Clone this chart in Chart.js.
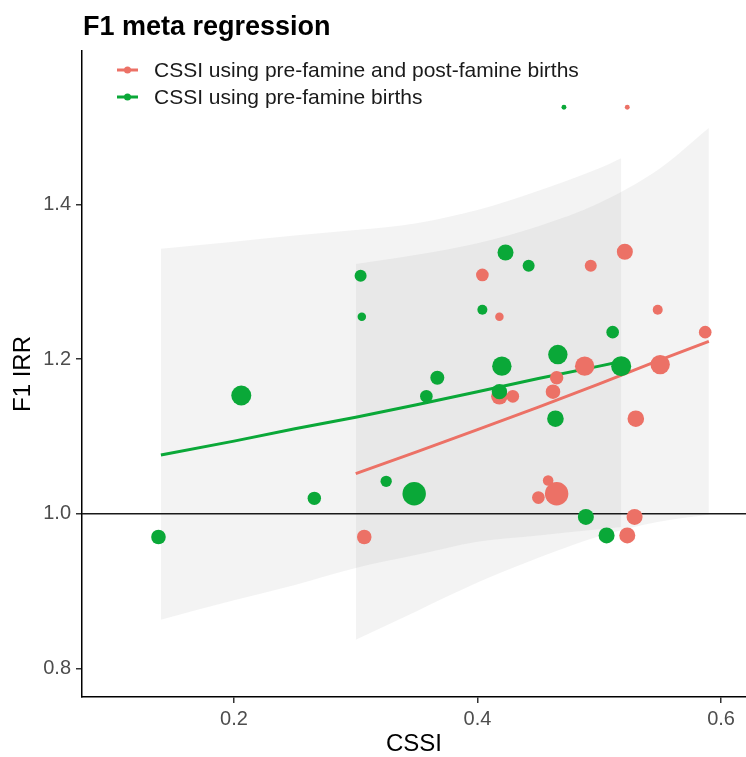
<!DOCTYPE html>
<html lang="en">
<head>
    <meta charset="UTF-8">
    <title>F1 meta regression</title>
    <script src="https://cdn.jsdelivr.net/npm/chart.js@4.4.0/dist/chart.umd.min.js"></script>
    <style>
        html, body { margin: 0; padding: 0; background: #fff; overflow: hidden; }
        #wrap { width: 746px; height: 757px; position: relative; }
        #wrap canvas { display: block; }
    </style>
</head>
<body>
    <div id="wrap"><canvas id="metaChart"></canvas></div>
    <script>
        const FONT = '"Liberation Sans", Arial, sans-serif';

        const chartTitle = 'F1 meta regression';
        const legendLabels = ['CSSI using pre-famine and post-famine births', 'CSSI using pre-famine births'];
        const seriesColors = ['#EC7166', '#0AA838'];

        const xTicks = [0.2, 0.4, 0.6];
        const yTicks = [0.8, 1.0, 1.2, 1.4];
        const xRange = [0.0752, 0.6205];
        const yRange = [0.763, 1.5987];
        const refLine = 1.0;

        // pre-famine + post-famine births (red)
        const redX = [0.307, 0.404, 0.418, 0.418, 0.429, 0.450, 0.458, 0.465, 0.462, 0.465, 0.488, 0.493, 0.521, 0.523, 0.523, 0.529, 0.530, 0.548, 0.550, 0.587];
        const redY = [0.970, 1.309, 1.255, 1.152, 1.152, 1.021, 1.043, 1.026, 1.158, 1.176, 1.191, 1.321, 1.339, 0.972, 1.526, 0.996, 1.123, 1.264, 1.193, 1.235];
        const redW = [53, 40, 18, 69, 40, 40, 28, 137, 53, 45, 94, 36, 64, 64, 6, 64, 69, 25, 94, 40];

        // pre-famine births only (green)
        const greenX = [0.138, 0.206, 0.266, 0.304, 0.305, 0.325, 0.348, 0.358, 0.367, 0.404, 0.418, 0.420, 0.423, 0.442, 0.464, 0.466, 0.471, 0.489, 0.506, 0.511, 0.518];
        const greenY = [0.970, 1.153, 1.020, 1.308, 1.255, 1.042, 1.026, 1.152, 1.176, 1.264, 1.158, 1.191, 1.338, 1.321, 1.123, 1.206, 1.526, 0.996, 0.972, 1.235, 1.191];
        const greenW = [53, 100, 45, 36, 18, 32, 137, 40, 49, 25, 59, 94, 64, 36, 69, 94, 6, 64, 64, 40, 100];

        // fitted lines and confidence bands
        const redBandX = [0.300, 0.35, 0.40, 0.45, 0.50, 0.55, 0.590];
        const redFit   = [1.052, 1.080, 1.109, 1.138, 1.168, 1.199, 1.223];
        const redUpper = [1.323, 1.335, 1.350, 1.372, 1.402, 1.447, 1.499];
        const redLower = [0.837, 0.874, 0.911, 0.943, 0.971, 0.990, 0.999];

        const greenBandX = [0.140, 0.20, 0.25, 0.30, 0.35, 0.40, 0.45, 0.50, 0.518];
        const greenFit   = [1.076, 1.094, 1.110, 1.125, 1.141, 1.158, 1.175, 1.191, 1.197];
        const greenUpper = [1.343, 1.352, 1.360, 1.367, 1.376, 1.393, 1.418, 1.447, 1.460];
        const greenLower = [0.863, 0.888, 0.908, 0.930, 0.947, 0.964, 0.972, 0.980, 0.983];

        const pts = (xs, ys) => xs.map((x, i) => ({ x: x, y: ys[i] }));
        const bandFill = 'rgba(140,140,140,0.10)';

        const band = (xs, ys, fill) => ({
            type: 'line', data: pts(xs, ys), fill: fill, order: 6,
            backgroundColor: bandFill, borderColor: 'transparent', borderWidth: 0,
            pointRadius: 0, cubicInterpolationMode: 'monotone', showLine: true
        });
        const fitLine = (xs, ys, color) => ({
            type: 'line', data: pts(xs, ys), order: 4, fill: false,
            borderColor: color, borderWidth: 3, pointRadius: 0, showLine: true
        });
        const points = (xs, ys, ws, color, order) => ({
            type: 'scatter', data: pts(xs, ys), order: order,
            backgroundColor: color, borderWidth: 0,
            pointRadius: ctx => Math.sqrt(ws[ctx.dataIndex] || 0),
            pointHoverRadius: ctx => Math.sqrt(ws[ctx.dataIndex] || 0)
        });

        // title + in-panel legend
        const decor = {
            id: 'decor',
            afterDraw(chart) {
                const ctx = chart.ctx;
                ctx.save();
                ctx.fillStyle = '#000';
                ctx.font = 'bold 27px ' + FONT;
                ctx.textBaseline = 'alphabetic';
                ctx.fillText(chartTitle, 83, 35);

                ctx.font = '21px ' + FONT;
                ctx.textBaseline = 'middle';
                legendLabels.forEach((lab, i) => {
                    const y = 70 + i * 27;
                    ctx.strokeStyle = seriesColors[i];
                    ctx.lineWidth = 3;
                    ctx.beginPath();
                    ctx.moveTo(117, y);
                    ctx.lineTo(138, y);
                    ctx.stroke();
                    ctx.fillStyle = seriesColors[i];
                    ctx.beginPath();
                    ctx.arc(127.5, y, 3.5, 0, Math.PI * 2);
                    ctx.fill();
                    ctx.fillStyle = '#1a1a1a';
                    ctx.fillText(lab, 154, y + 1);
                });
                ctx.restore();
            }
        };

        new Chart(document.getElementById('metaChart'), {
            type: 'scatter',
            data: {
                datasets: [
                    band(greenBandX, greenUpper, '+1'),
                    band(greenBandX, greenLower, false),
                    band(redBandX, redUpper, '+1'),
                    band(redBandX, redLower, false),
                    {
                        type: 'line', data: pts(xRange, [refLine, refLine]), order: 5, fill: false,
                        borderColor: '#1a1a1a', borderWidth: 1.5, pointRadius: 0, showLine: true
                    },
                    fitLine(greenBandX, greenFit, seriesColors[1]),
                    fitLine(redBandX, redFit, seriesColors[0]),
                    points(redX, redY, redW, seriesColors[0], 2),
                    points(greenX, greenY, greenW, seriesColors[1], 1)
                ]
            },
            options: {
                responsive: true,
                maintainAspectRatio: false,
                animation: false,
                events: [],
                layout: { autoPadding: false, padding: { top: 51, left: 0, right: 0, bottom: 0 } },
                plugins: {
                    legend: { display: false },
                    title: { display: false },
                    tooltip: { enabled: false }
                },
                scales: {
                    x: {
                        type: 'linear', min: xRange[0], max: xRange[1],
                        afterBuildTicks: s => { s.ticks = xTicks.map(v => ({ value: v })); },
                        afterFit: s => { s.height = 60; s.paddingLeft = 0; s.paddingRight = 0; },
                        ticks: {
                            autoSkip: false, maxRotation: 0, padding: 4,
                            color: '#4D4D4D', font: { size: 20, family: FONT },
                            callback: v => v.toFixed(1)
                        },
                        grid: { drawOnChartArea: false, drawTicks: true, tickLength: 6, color: '#333', lineWidth: 1.5 },
                        border: { display: true, color: '#000', width: 1.5 },
                        title: { display: true, text: 'CSSI', color: '#000', font: { size: 24, family: FONT, lineHeight: 1 }, padding: { top: 0, bottom: 1 } }
                    },
                    y: {
                        type: 'linear', min: yRange[0], max: yRange[1],
                        afterBuildTicks: s => { s.ticks = yTicks.map(v => ({ value: v })); },
                        afterFit: s => { s.width = 82; },
                        ticks: {
                            autoSkip: false, padding: 5,
                            color: '#4D4D4D', font: { size: 20, family: FONT },
                            callback: v => v.toFixed(1)
                        },
                        grid: { drawOnChartArea: false, drawTicks: true, tickLength: 6, color: '#333', lineWidth: 1.5 },
                        border: { display: true, color: '#000', width: 1.5 },
                        title: { display: true, text: 'F1 IRR', color: '#000', font: { size: 24, family: FONT, lineHeight: 1 }, padding: { top: 11, bottom: 0 } }
                    }
                }
            },
            plugins: [decor]
        });
    </script>
</body>
</html>
